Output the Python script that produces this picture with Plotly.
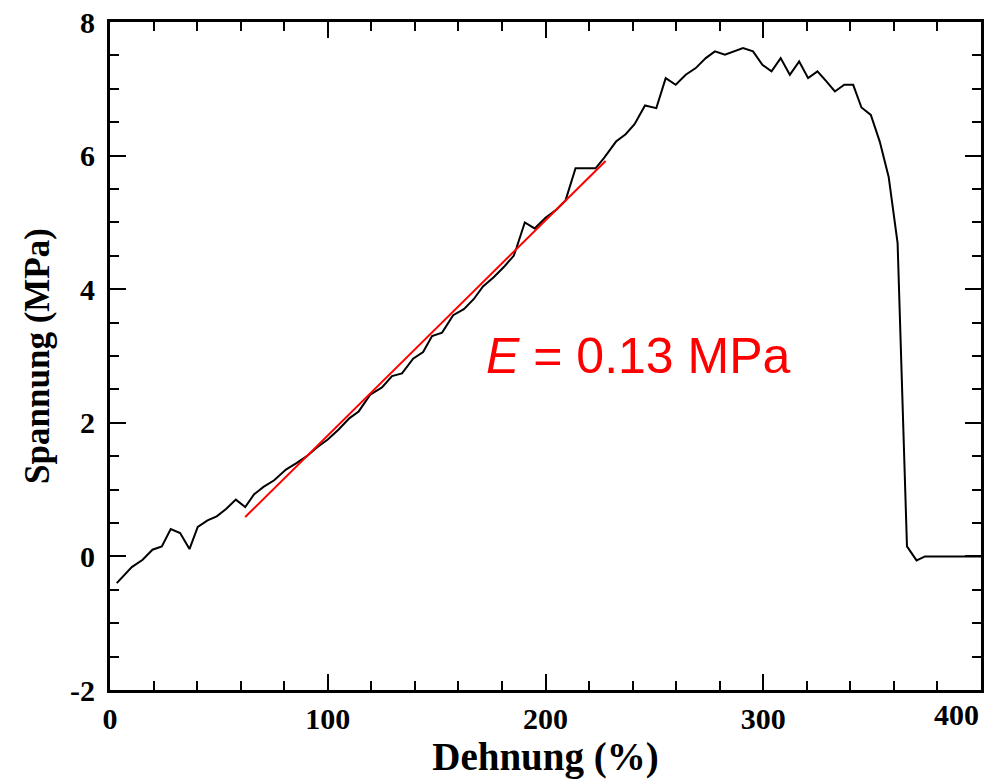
import plotly.graph_objects as go

# Spannungs-Dehnungs-Kurve
strain = [3.1, 10, 15, 19.5, 23.8, 27.9, 32.2, 36.5, 40.3, 44.8, 49, 53.3, 57.8, 62.1,
          66.2, 70.5, 75.4, 80.8, 85.8, 90.4, 95, 100, 105, 110, 114.2, 119.5, 124.9,
          129.5, 134.1, 139.2, 143.8, 147.9, 152.5, 157.6, 162.5, 167, 171.3, 176.2,
          181.1, 185.4, 186.7, 190.5, 195, 200, 204.6, 209.2, 213.8, 223, 227, 232.4,
          236.8, 240.9, 245.7, 250.9, 255.2, 259.8, 264.4, 269, 273.6, 277.8, 282.4,
          286.6, 290.7, 295.3, 299.6, 303.8, 308, 312.2, 316.5, 320.6, 324.9, 329,
          332.9, 337.2, 341.3, 345.1, 349.4, 353.5, 357.6, 361.7, 366, 370.4, 374.3, 400]
stress = [-0.40, -0.16, -0.05, 0.10, 0.15, 0.41, 0.35, 0.11, 0.44, 0.54, 0.60, 0.71, 0.85,
          0.74, 0.93, 1.04, 1.14, 1.30, 1.40, 1.50, 1.63, 1.75, 1.90, 2.07, 2.17, 2.42,
          2.53, 2.70, 2.74, 2.96, 3.06, 3.30, 3.35, 3.61, 3.70, 3.85, 4.04, 4.18, 4.34,
          4.50, 4.62, 5.00, 4.91, 5.07, 5.18, 5.33, 5.81, 5.81, 5.97, 6.21, 6.32, 6.47,
          6.75, 6.71, 7.16, 7.06, 7.21, 7.31, 7.46, 7.56, 7.51, 7.56, 7.61, 7.56, 7.36,
          7.26, 7.46, 7.21, 7.41, 7.16, 7.26, 7.11, 6.96, 7.06, 7.06, 6.72, 6.61, 6.21,
          5.68, 4.69, 0.15, -0.06, 0.0, 0.0]

# lineare Anpassung (E-Modul)
fit_x = [62.1, 227.6]
fit_y = [0.59, 5.92]

x_ticks = [0, 100, 200, 300, 400]
x_labels = ["0", "100", "200", "300", ""]   # 400 kommt rechtsbündig als Annotation
y_ticks = [-2, 0, 2, 4, 6, 8]
y_labels = ["-2", "0", "2", "4", "6", "8"]

serif = "Liberation Serif, Times New Roman, serif"
tick_font = dict(family=serif, size=30, color="black", weight="bold")

fig = go.Figure()
fig.add_trace(go.Scatter(x=strain, y=stress, mode="lines",
                         line=dict(color="black", width=2), showlegend=False))
fig.add_trace(go.Scatter(x=fit_x, y=fit_y, mode="lines",
                         line=dict(color="red", width=2), showlegend=False))

fig.add_annotation(x=242.8, y=3.0, text="<i>E</i> = 0.13 MPa", showarrow=False,
                   font=dict(family="Liberation Sans, Arial, sans-serif", size=50, color="red"))
fig.add_annotation(x=x_ticks[-1], y=0, xref="x", yref="paper", yanchor="top", xanchor="right",
                   yshift=-6, text="400", showarrow=False, font=tick_font)

axis_common = dict(
    showline=True, linecolor="black", linewidth=3, mirror="allticks",
    ticks="inside", ticklen=16, tickwidth=2, tickcolor="black",
    showgrid=False, zeroline=False, automargin=False,
    ticklabeloverflow="allow", tickfont=tick_font,
)

fig.update_xaxes(range=[0, 400], tickvals=x_ticks, ticktext=x_labels, ticklabelstandoff=0,
                 minor=dict(dtick=20, ticks="inside", ticklen=9, tickwidth=2, tickcolor="black"),
                 title=dict(text="Dehnung (%)", standoff=6,
                            font=dict(family=serif, size=39, color="black", weight="bold")),
                 **axis_common)
fig.update_yaxes(range=[-2, 8], tickvals=y_ticks, ticktext=y_labels, ticklabelstandoff=6,
                 minor=dict(dtick=0.5, ticks="inside", ticklen=9, tickwidth=2, tickcolor="black"),
                 title=dict(text="Spannung (MPa)", standoff=10,
                            font=dict(family=serif, size=35, color="black", weight="bold")),
                 **axis_common)

fig.update_layout(width=1005, height=784, plot_bgcolor="white", paper_bgcolor="white",
                  margin=dict(l=110, r=24, t=22, b=94))

# Standardrand der Seite entfernen, damit die Figur bündig oben links sitzt
fig.write_html("out.html", config={"displayModeBar": False},
               post_script="document.body.style.margin='0';")
